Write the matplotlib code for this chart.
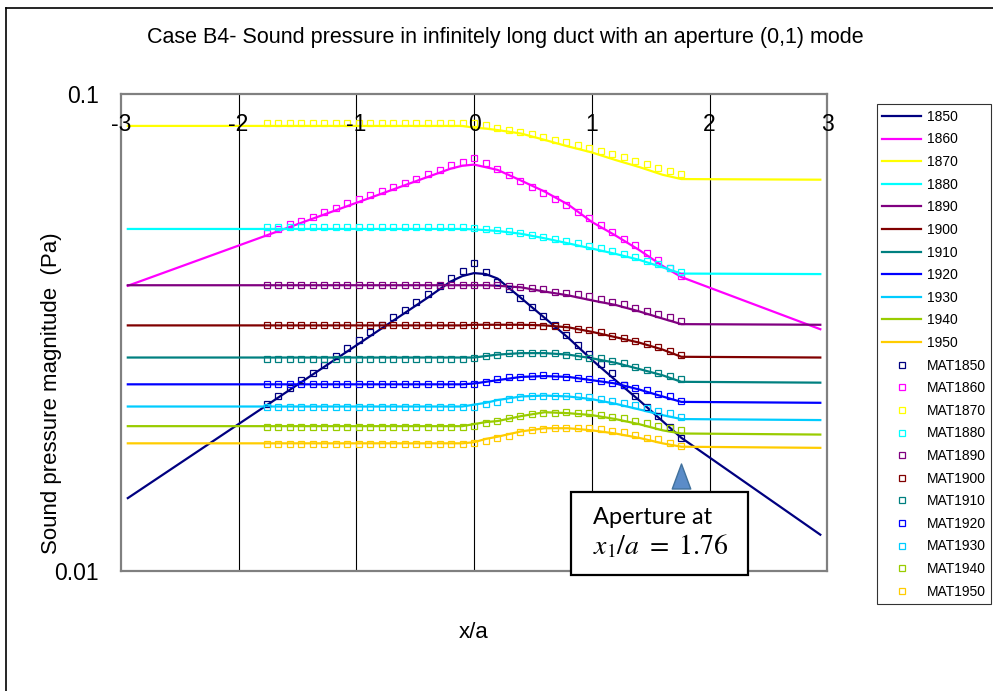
import numpy as np
import matplotlib.pyplot as plt
from matplotlib.path import Path
from matplotlib.patches import Rectangle
from matplotlib.lines import Line2D

plt.rcParams['font.family'] = ['Liberation Sans', 'DejaVu Sans']
plt.rcParams['mathtext.fontset'] = 'stix'
plt.rcParams['axes.unicode_minus'] = False

# frequencies (Hz) of each curve
freqs = ['1850', '1860', '1870', '1880', '1890', '1900', '1910', '1920', '1930', '1940', '1950']
colors = ['#000080', '#FF00FF', '#FFFF00', '#00FFFF', '#800080', '#800000',
          '#008080', '#0000FF', '#00CCFF', '#99CC00', '#FFCC00']

# analytical curves, x/a nodes
x_line = [-2.94, -0.4, -0.2, -0.1, 0.0, 0.1, 0.2, 0.4, 0.6, 0.8, 1.0, 1.2, 1.4, 1.6, 1.76, 2.94]
p1850 = [0.0142, 0.0373, 0.0404, 0.0415, 0.0421, 0.0419, 0.0410, 0.0373, 0.0339, 0.0308, 0.0277, 0.0251, 0.0228, 0.0206, 0.0190, 0.0119]
p1860 = [0.0396, 0.0669, 0.0697, 0.0707, 0.0711, 0.0702, 0.0693, 0.0658, 0.0624, 0.0586, 0.0539, 0.0505, 0.0471, 0.0436, 0.0413, 0.0321]
p1870 = [0.0857, 0.0857, 0.0857, 0.0857, 0.0850, 0.0846, 0.0840, 0.0826, 0.0801, 0.0776, 0.0754, 0.0727, 0.0703, 0.0677, 0.0663, 0.0661]
p1880 = [0.0521, 0.0521, 0.0521, 0.0521, 0.0520, 0.0518, 0.0516, 0.0509, 0.0498, 0.0486, 0.0474, 0.0462, 0.0449, 0.0433, 0.0420, 0.0419]
p1890 = [0.0397, 0.0397, 0.0397, 0.0397, 0.0397, 0.0397, 0.0396, 0.0393, 0.0385, 0.0378, 0.0369, 0.0361, 0.0350, 0.0338, 0.0329, 0.0328]
p1900 = [0.0327, 0.0327, 0.0327, 0.0327, 0.0328, 0.0328, 0.0328, 0.0328, 0.0327, 0.0324, 0.0317, 0.0309, 0.0301, 0.0291, 0.0281, 0.0280]
p1910 = [0.0280, 0.0280, 0.0280, 0.0280, 0.0280, 0.0282, 0.0284, 0.0286, 0.0286, 0.0284, 0.0279, 0.0273, 0.0265, 0.0257, 0.0249, 0.0248]
p1920 = [0.0246, 0.0246, 0.0246, 0.0246, 0.0247, 0.0249, 0.0251, 0.0255, 0.0256, 0.0255, 0.0251, 0.0247, 0.0240, 0.0232, 0.0226, 0.0225]
p1930 = [0.0221, 0.0221, 0.0221, 0.0221, 0.0223, 0.0225, 0.0228, 0.0232, 0.0233, 0.0232, 0.0229, 0.0224, 0.0218, 0.0212, 0.0208, 0.0207]
p1940 = [0.0201, 0.0201, 0.0201, 0.0201, 0.0203, 0.0205, 0.0206, 0.0211, 0.0215, 0.0214, 0.0212, 0.0208, 0.0203, 0.0197, 0.0194, 0.0193]
p1950 = [0.0185, 0.0185, 0.0185, 0.0185, 0.0186, 0.0189, 0.0191, 0.0196, 0.0199, 0.0199, 0.0197, 0.0194, 0.0190, 0.0185, 0.0182, 0.0181]

# MATLAB results, 37 points across the duct section -1.76..1.76
x_mat = np.linspace(-1.76, 1.76, 37)
m1850 = [0.0224, 0.0233, 0.0242, 0.0251, 0.0260, 0.0270, 0.0282, 0.0293, 0.0305, 0.0316, 0.0328, 0.0340,
         0.0352, 0.0366, 0.0381, 0.0396, 0.0412, 0.0426, 0.0443,
         0.0424, 0.0404, 0.0389, 0.0373, 0.0357, 0.0342, 0.0328, 0.0312, 0.0298, 0.0285, 0.0272, 0.0260,
         0.0245, 0.0233, 0.0221, 0.0211, 0.0200, 0.0190]
m1860 = [0.0510, 0.0522, 0.0534, 0.0541, 0.0553, 0.0565, 0.0577, 0.0590, 0.0601, 0.0614, 0.0626, 0.0639,
         0.0652, 0.0664, 0.0679, 0.0693, 0.0708, 0.0721, 0.0734,
         0.0716, 0.0695, 0.0677, 0.0658, 0.0639, 0.0621, 0.0602, 0.0585, 0.0566, 0.0549, 0.0531, 0.0514,
         0.0497, 0.0482, 0.0465, 0.0448, 0.0432, 0.0416]
m1870 = [0.0868] * 18 + [0.0868,
         0.0859, 0.0850, 0.0840, 0.0834, 0.0823, 0.0812, 0.0801, 0.0792, 0.0781, 0.0770, 0.0761, 0.0747,
         0.0737, 0.0725, 0.0713, 0.0701, 0.0690, 0.0679]
m1880 = [0.0525] * 18 + [0.0524,
         0.0521, 0.0518, 0.0516, 0.0510, 0.0506, 0.0502, 0.0497, 0.0492, 0.0486, 0.0480, 0.0475, 0.0468,
         0.0462, 0.0456, 0.0447, 0.0440, 0.0432, 0.0424]
m1890 = [0.0397] * 18 + [0.0397,
         0.0397, 0.0397, 0.0395, 0.0394, 0.0392, 0.0389, 0.0385, 0.0383, 0.0380, 0.0376, 0.0371, 0.0367,
         0.0363, 0.0355, 0.0351, 0.0346, 0.0340, 0.0334]
m1900 = [0.0327] * 18 + [0.0328,
         0.0328, 0.0328, 0.0328, 0.0328, 0.0327, 0.0326, 0.0326, 0.0324, 0.0322, 0.0320, 0.0317, 0.0311,
         0.0307, 0.0304, 0.0299, 0.0294, 0.0289, 0.0284]
m1910 = [0.0278] * 18 + [0.0280,
         0.0282, 0.0284, 0.0286, 0.0286, 0.0286, 0.0286, 0.0286, 0.0284, 0.0282, 0.0280, 0.0279, 0.0276,
         0.0273, 0.0268, 0.0264, 0.0260, 0.0256, 0.0252]
m1920 = [0.0246] * 18 + [0.0246,
         0.0249, 0.0252, 0.0255, 0.0255, 0.0256, 0.0257, 0.0256, 0.0255, 0.0254, 0.0252, 0.0250, 0.0247,
         0.0245, 0.0242, 0.0239, 0.0235, 0.0232, 0.0227]
m1930 = [0.0220] * 18 + [0.0221,
         0.0224, 0.0226, 0.0229, 0.0231, 0.0232, 0.0232, 0.0233, 0.0233, 0.0232, 0.0231, 0.0229, 0.0227,
         0.0225, 0.0223, 0.0219, 0.0216, 0.0214, 0.0210]
m1940 = [0.0200] * 18 + [0.0201,
         0.0204, 0.0206, 0.0209, 0.0211, 0.0213, 0.0214, 0.0214, 0.0215, 0.0214, 0.0214, 0.0212, 0.0210,
         0.0209, 0.0206, 0.0204, 0.0201, 0.0199, 0.0197]
m1950 = [0.0184] * 18 + [0.0185,
         0.0187, 0.0190, 0.0192, 0.0195, 0.0197, 0.0198, 0.0199, 0.0199, 0.0199, 0.0199, 0.0198, 0.0196,
         0.0195, 0.0193, 0.0190, 0.0189, 0.0185, 0.0183]

lines = [p1850, p1860, p1870, p1880, p1890, p1900, p1910, p1920, p1930, p1940, p1950]
mats = [m1850, m1860, m1870, m1880, m1890, m1900, m1910, m1920, m1930, m1940, m1950]
aperture_x = 1.76

fig = plt.figure(figsize=(9.93, 6.91), dpi=100)
ax = fig.add_axes([0.1216, 0.1741, 0.7116, 0.6899])

# vertical gridlines behind the curves
for gx in range(-2, 3):
    ax.axvline(gx, color='black', lw=0.8, zorder=0.5)

handles = []
for f, ys, c in zip(freqs, lines, colors):
    h, = ax.plot(x_line, ys, color=c, lw=1.6, label=f)
    handles.append(h)
for f, ys, c in zip(freqs, mats, colors):
    h, = ax.plot(x_mat, ys, ls='none', marker='s', ms=4, mfc='none', mec=c, mew=0.9,
                 label='MAT' + f)
    handles.append(h)

ax.set_yscale('log')
ax.set_xlim(-3, 3)
ax.set_ylim(0.01, 0.1)
ax.set_yticks([0.01, 0.1], ['0.01', '0.1'])
ax.yaxis.set_minor_locator(plt.NullLocator())
ax.tick_params(axis='y', length=0, pad=16, labelsize=16.5)
ax.set_xticks(range(-3, 4), [str(v) for v in range(-3, 4)])
ax.tick_params(axis='x', length=0, bottom=False, labelbottom=False, labeltop=True,
               pad=-30, labelsize=16.5)
ax.set_axisbelow(False)
for s in ax.spines.values():
    s.set_color('#808080')
    s.set_linewidth(1.6)

ax.set_ylabel('Sound pressure magnitude  (Pa)', fontsize=16)
ax.yaxis.set_label_coords(-0.083, 0.373)
ax.set_xlabel('x/a', fontsize=16)
ax.xaxis.set_label_coords(0.5, -0.107)

fig.suptitle('Case B4- Sound pressure in infinitely long duct with an aperture (0,1) mode',
             x=505 / 993, y=1 - 38 / 691, va='center', fontsize=15.5)

# aperture marker
tri = Path([(-0.37, -0.5), (0.37, -0.5), (0, 0.5), (-0.37, -0.5)],
           [Path.MOVETO, Path.LINETO, Path.LINETO, Path.CLOSEPOLY])
ax.plot([aperture_x], [0.199], transform=ax.get_xaxis_transform(), ls='none',
        marker=tri, ms=18, color='#5B8CC8', mec='#41719C', mew=1, clip_on=False)

box = Rectangle((571 / 993, 1 - 575 / 691), 177 / 993, 83 / 691, transform=fig.transFigure,
                facecolor='white', edgecolor='black', lw=1.6, zorder=5)
fig.add_artist(box)
fig.text(593 / 993, 1 - 518 / 691, 'Aperture at', fontsize=17, family=['Lato', 'DejaVu Sans'],
         va='center', zorder=6)
fig.text(593 / 993, 1 - 547 / 691, r'$x_1/a\ =\ 1.76$', fontsize=20, va='center', zorder=6)

leg = fig.legend(handles=handles, loc='upper left', bbox_to_anchor=(876.7 / 993, 1 - 104.3 / 691),
                 fancybox=False, edgecolor='black', fontsize=10, handlelength=2.8,
                 handletextpad=0.4, labelspacing=0.62, borderpad=0.4, borderaxespad=0,
                 numpoints=1)
leg.get_frame().set_linewidth(0.8)

# outer chart border
fig.add_artist(Line2D([6 / 993, 6 / 993], [0, 1 - 8 / 691], transform=fig.transFigure,
                      color='black', lw=1.2))
fig.add_artist(Line2D([6 / 993, 1], [1 - 8 / 691, 1 - 8 / 691], transform=fig.transFigure,
                      color='black', lw=1.2))

fig.savefig('out.png', dpi=100)
